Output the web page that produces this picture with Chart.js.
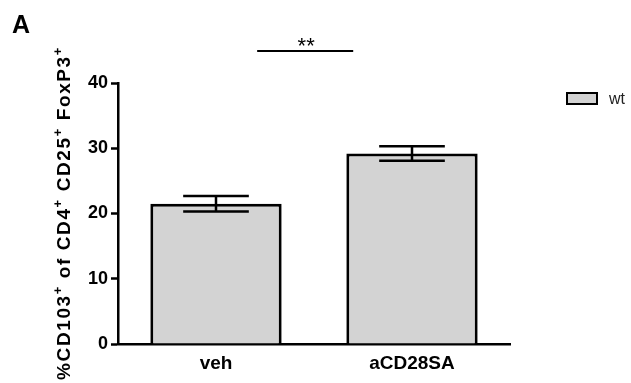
<!DOCTYPE html>
<html>
<head>
<meta charset="utf-8">
<script src="https://cdn.jsdelivr.net/npm/chart.js@4/dist/chart.umd.min.js"></script>
<style>
  html, body { margin: 0; padding: 0; background: #fff; }
  #wrap { width: 631px; height: 383px; position: relative; }
</style>
</head>
<body>
<div id="wrap"><canvas id="c"></canvas></div>
<script>
// Treatment groups and measurements (mean ± SEM)
const categories = ['veh', 'aCD28SA'];
const seriesName = 'wt';
const meanValues = [21.5, 29.2];
const semValues = [1.2, 1.1];
const yTicks = [0, 10, 20, 30, 40];
const significance = { from: 0.21, to: 0.70, level: 44.9, label: '**' };

const FONT = '"Liberation Sans", Arial, sans-serif';
const BAR_FILL = '#d3d3d3';

// Error bars with caps, centred on each bar
const errorBarPlugin = {
  id: 'errorBars',
  afterDatasetsDraw(chart) {
    const ctx = chart.ctx;
    const meta = chart.getDatasetMeta(0);
    const y = chart.scales.y;
    ctx.save();
    ctx.strokeStyle = '#000';
    ctx.lineWidth = 2.5;
    meta.data.forEach((bar, i) => {
      const cx = bar.x;
      const half = bar.width / 4;
      const top = y.getPixelForValue(meanValues[i] + semValues[i]);
      const bot = y.getPixelForValue(meanValues[i] - semValues[i]);
      ctx.beginPath();
      ctx.moveTo(cx, top); ctx.lineTo(cx, bot);
      ctx.moveTo(cx - half, top); ctx.lineTo(cx + half, top);
      ctx.moveTo(cx - half, bot); ctx.lineTo(cx + half, bot);
      ctx.stroke();
    });
    ctx.restore();
  }
};

// Panel letter, axis title with superscripts, significance bracket, legend
const decorPlugin = {
  id: 'decor',
  afterDraw(chart) {
    const ctx = chart.ctx;
    const x = chart.scales.x;
    const y = chart.scales.y;
    ctx.save();

    // panel letter
    ctx.fillStyle = '#000';
    ctx.font = 'bold 25px ' + FONT;
    ctx.textAlign = 'left';
    ctx.textBaseline = 'alphabetic';
    ctx.fillText('A', 12, 33);

    // y-axis title: %CD103+ of CD4+ CD25+ FoxP3+
    const parts = [
      ['%CD103', false], ['+', true], [' of CD4', false], ['+', true],
      [' CD25', false], ['+', true], [' FoxP3', false], ['+', true]
    ];
    const mainFont = 'bold 19px ' + FONT;
    const supFont = 'bold 13px ' + FONT;
    ctx.letterSpacing = '1.6px';
    let total = 0;
    parts.forEach(([t, sup]) => { ctx.font = sup ? supFont : mainFont; total += ctx.measureText(t).width; });
    ctx.translate(70, 213);
    ctx.rotate(-Math.PI / 2);
    let px = -total / 2;
    parts.forEach(([t, sup]) => {
      ctx.font = sup ? supFont : mainFont;
      ctx.fillText(t, px, sup ? -8 : 0);
      px += ctx.measureText(t).width;
    });
    ctx.setTransform(1, 0, 0, 1, 0, 0);
    ctx.letterSpacing = '0px';

    // significance bracket
    const x1 = x.getPixelForValue(significance.from);
    const x2 = x.getPixelForValue(significance.to);
    const ly = y.getPixelForValue(significance.level);
    ctx.strokeStyle = '#000';
    ctx.lineWidth = 2;
    ctx.beginPath();
    ctx.moveTo(x1, ly); ctx.lineTo(x2, ly);
    ctx.stroke();
    ctx.font = '22px ' + FONT;
    ctx.textAlign = 'center';
    ctx.textBaseline = 'alphabetic';
    ctx.fillText(significance.label, (x1 + x2) / 2 + 1, ly + 2);

    // legend
    ctx.fillStyle = BAR_FILL;
    ctx.fillRect(567, 93, 30, 11);
    ctx.lineWidth = 2;
    ctx.strokeRect(567, 93, 30, 11);
    ctx.fillStyle = '#222';
    ctx.font = '16px ' + FONT;
    ctx.textAlign = 'left';
    ctx.textBaseline = 'middle';
    ctx.fillText(chart.data.datasets[0].label, 609, 100);

    ctx.restore();
  }
};

new Chart(document.getElementById('c'), {
  type: 'bar',
  data: {
    labels: categories,
    datasets: [{
      label: seriesName,
      data: meanValues,
      backgroundColor: BAR_FILL,
      borderColor: '#000',
      borderWidth: 3,
      borderSkipped: 'bottom',
      categoryPercentage: 1,
      barPercentage: 0.67
    }]
  },
  options: {
    responsive: true,
    maintainAspectRatio: false,
    animation: false,
    devicePixelRatio: 1,
    layout: { padding: { top: 83, right: 121, bottom: 0, left: 0 } },
    plugins: { legend: { display: false }, tooltip: { enabled: false } },
    scales: {
      x: {
        grid: { display: false, drawTicks: false },
        border: { color: '#000', width: 2.5 },
        ticks: { color: '#000', font: { family: FONT, size: 19, weight: 'bold' }, padding: 8 },
        afterFit(s) { s.height = 39; }
      },
      y: {
        min: 0, max: 40,
        afterBuildTicks(s) { s.ticks = yTicks.map(v => ({ value: v })); },
        grid: { display: true, drawOnChartArea: false, drawTicks: true, tickLength: 7, tickColor: '#000', tickWidth: 2.5 },
        border: { color: '#000', width: 2.5 },
        ticks: { color: '#000', font: { family: FONT, size: 18, weight: 'bold' }, padding: 3 },
        afterFit(s) { s.width = 118; }
      }
    }
  },
  plugins: [errorBarPlugin, decorPlugin]
});
</script>
</body>
</html>
